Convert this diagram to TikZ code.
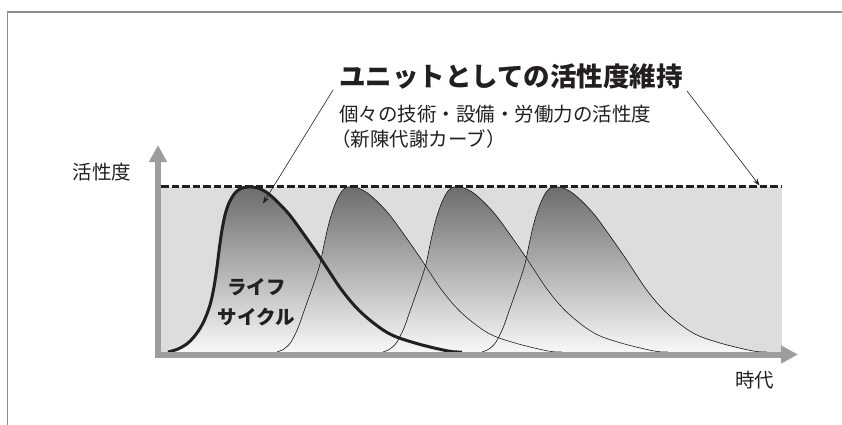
\documentclass[tikz,border=0pt]{standalone}
\usepackage{fontspec}
\setmainfont{Noto Sans CJK JP}
\usetikzlibrary{arrows.meta}
\definecolor{ink}{RGB}{35,31,32}
\definecolor{axisgray}{RGB}{156,158,157}
\definecolor{bggray}{RGB}{220,221,221}
\definecolor{framegray}{RGB}{140,140,140}
\definecolor{shtop}{RGB}{108,108,108}
\definecolor{shbot}{RGB}{248,248,248}
\tikzset{
  framestyle/.style={draw=framegray, line width=1.5pt},
  axisstyle/.style={draw=axisgray, line width=6pt, -{Triangle[length=17pt 0,width=17pt 0]}},
  curvefill/.style={top color=shtop, bottom color=shbot, draw=none},
  thincurve/.style={draw=ink, line width=0.6pt},
  thickcurve/.style={draw=ink, line width=3pt},
  maxline/.style={draw=ink, line width=3.3pt, dash pattern=on 7.5pt off 3pt},
  pointer/.style={draw=ink, line width=0.6pt, -{Stealth[length=7pt,width=5pt]}},
  lbl/.style={text=ink, inner sep=0pt},
}
\def\lifecurve{plot[smooth,tension=0.55] coordinates {(-80,165) (-70,162) (-60,156) (-51,146) (-44,134) (-38,118) (-34,100) (-31,80) (-28.5,60) (-26,43) (-23,28) (-19,16) (-13,6) (-7,1.5) (0,0) (10,1) (22,8) (40,26) (57,49) (73.7,73) (93.7,103) (113.7,126) (140,146) (167,156) (200,164) (214,165)}}
\def\renewcurve{plot[smooth,tension=0.55] coordinates {(-71,165) (-64,162) (-57,155) (-50,141) (-45,127) (-39,110) (-33,93) (-28,77) (-24,58) (-20.5,42) (-17,29) (-12,15) (-6,4) (0,0) (10,1) (22,8) (40,26) (57,49) (73.7,73) (93.7,103) (113.7,126) (140,146) (167,156) (200,164) (214,165)}}
\begin{document}
\begin{tikzpicture}[x=1pt,y=-1pt]
\useasboundingbox (0,0) rectangle (842,425);
% frame
\draw[framestyle] (7.5,425) -- (7.5,12) -- (842,12);
% background band
\fill[bggray] (161,186.5) rectangle (782,352);
% curve fills
\begin{scope}[shift={(248,187)}]
  \fill[curvefill] \lifecurve -- cycle;
\end{scope}
\foreach \px in {348,454,553}{
  \begin{scope}[shift={(\px,187)}]
    \fill[curvefill] \renewcurve -- cycle;
  \end{scope}
}
% thin curve outlines
\foreach \px in {348,454,553}{
  \begin{scope}[shift={(\px,187)}]
    \draw[thincurve] \renewcurve;
  \end{scope}
}
% thick life cycle curve
\begin{scope}[shift={(248,187)}]
  \draw[thickcurve] \lifecurve;
\end{scope}
% maximum activity dashed line
\coordinate (dl) at (161,186.5);
\coordinate (dr) at (782,186.5);
\draw[maxline] (dl) -- (dr);
% axes
\coordinate (ybot) at (158,357.3);
\coordinate (ytip) at (158,145);
\coordinate (xleft) at (155,354.5);
\coordinate (xtip) at (798,354.5);
\draw[axisstyle] (ybot) -- (ytip);
\draw[axisstyle] (xleft) -- (xtip);
% labels
\node[lbl, font=\fontsize{19.5}{22}\selectfont] (ylab) at (102,172.5) {活性度};
\node[lbl, font=\fontsize{19.5}{22}\selectfont] (xlab) at (754.5,380) {時代};
\node[lbl, font=\bfseries\fontsize{26.5}{30}\selectfont] (title) at (511,77) {ユニットとしての活性度維持};
\node[lbl, anchor=west, font=\fontsize{19.5}{22}\selectfont] (sub1) at (339,114.5) {個々の技術・設備・労働力の活性度};
\node[lbl, anchor=west, font=\fontsize{19.5}{22}\selectfont] (sub2) at (331,139) {（新陳代謝カーブ）};
\node[lbl, align=center, font=\bfseries\fontsize{19.5}{30}\selectfont] (life) at (256.5,302) {ライフ\\サイクル};
% pointers
\coordinate (p1s) at (333,90);
\coordinate (p1e) at (263,203.5);
\coordinate (p2s) at (687,91);
\coordinate (p2e) at (759.5,185.5);
\draw[pointer] (p1s) -- (p1e);
\draw[pointer] (p2s) -- (p2e);
\end{tikzpicture}
\end{document}
